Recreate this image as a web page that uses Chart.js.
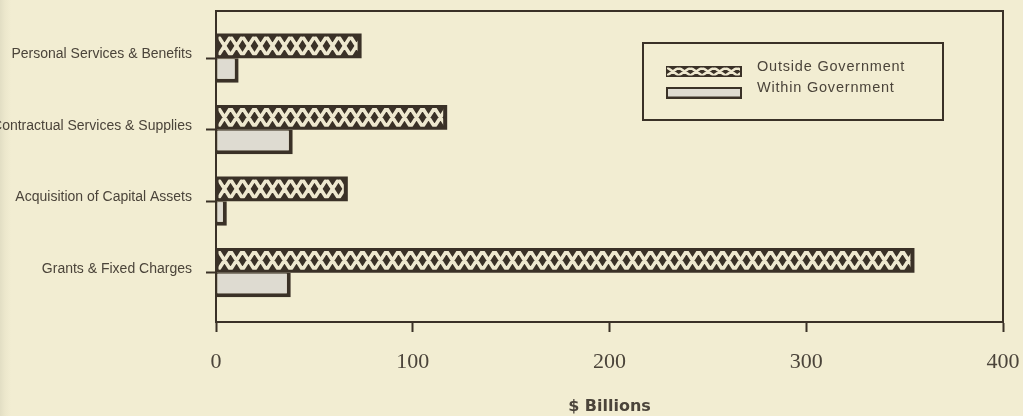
<!DOCTYPE html>
<html>
<head>
<meta charset="utf-8">
<script src="https://cdn.jsdelivr.net/npm/chart.js@4"></script>
<style>
  html, body { margin: 0; padding: 0; }
  body {
    width: 1023px; height: 416px; overflow: hidden;
    background: linear-gradient(to right, #e2dec4 0px, #ece7cc 5px, #f2edd2 11px, #f2edd2 100%);
  }
  canvas { display: block; }
</style>
</head>
<body>
<canvas id="chart" width="1023" height="416"></canvas>
<script>
// Spending by object class, split by who receives the money
const categories = [
  'Personal Services & Benefits',
  'Contractual Services & Supplies',
  'Acquisition of Capital Assets',
  'Grants & Fixed Charges'
];
const outsideGovernment = [74, 117.5, 67, 355];
const withinGovernment = [11.5, 39, 5.5, 38];
const seriesNames = ['Outside Government', 'Within Government'];
const xTickValues = [0, 100, 200, 300, 400];
const axisTitle = '$ Billions';

const INK = '#3a3127';
const TEXT = '#4b443a';
const CREAM = '#eee8cf';
const STIPPLE = '#dedbd1';

// White cross-lattice used for the hatched series
function drawLattice(ctx, left, top, right, bottom, period, lineWidth) {
  if (right <= left || bottom <= top) return;
  ctx.save();
  ctx.beginPath();
  ctx.rect(left, top, right - left, bottom - top);
  ctx.clip();
  ctx.strokeStyle = CREAM;
  ctx.lineWidth = lineWidth;
  ctx.beginPath();
  for (let cx = left + period / 2; cx - period / 2 < right; cx += period) {
    ctx.moveTo(cx - period / 2, top);
    ctx.lineTo(cx + period / 2, bottom);
    ctx.moveTo(cx - period / 2, bottom);
    ctx.lineTo(cx + period / 2, top);
  }
  ctx.stroke();
  ctx.restore();
}

const hatchPlugin = {
  id: 'hatch',
  afterDatasetsDraw(chart) {
    const ctx = chart.ctx;
    const meta = chart.getDatasetMeta(0);
    meta.data.forEach(bar => {
      const p = bar.getProps(['x', 'y', 'base', 'height'], true);
      const left = Math.min(p.x, p.base);
      const right = Math.max(p.x, p.base);
      const top = p.y - p.height / 2;
      const bottom = p.y + p.height / 2;
      drawLattice(ctx, left + 2, top + 3, right - 4, bottom - 3, 12, 3.6);
    });
  }
};

const framePlugin = {
  id: 'frame',
  afterDatasetsDraw(chart) {
    const { ctx, chartArea: a } = chart;
    ctx.save();
    ctx.strokeStyle = INK;
    ctx.lineWidth = 2;
    ctx.beginPath();
    ctx.moveTo(a.left, a.top);
    ctx.lineTo(a.right, a.top);
    ctx.lineTo(a.right, a.bottom);
    ctx.stroke();
    ctx.restore();
  }
};

const boxLegendPlugin = {
  id: 'boxLegend',
  afterDraw(chart) {
    const ctx = chart.ctx;
    const ds = chart.data.datasets;
    ctx.save();
    ctx.strokeStyle = INK;
    ctx.lineWidth = 2;
    ctx.strokeRect(643, 43, 300, 77);

    const sx = 666, sw = 76;
    ctx.fillStyle = ds[0].backgroundColor;
    ctx.fillRect(sx, 66, sw, 11);
    drawLattice(ctx, sx + 1, 67.5, sx + sw - 2, 75.5, 11.7, 2.6);

    ctx.fillStyle = ds[1].borderColor;
    ctx.fillRect(sx, 87, sw, 12);
    ctx.fillStyle = ds[1].backgroundColor;
    ctx.fillRect(sx + 2, 89, sw - 4, 7.5);

    ctx.fillStyle = TEXT;
    ctx.font = '14.5px "Liberation Sans", Arial, sans-serif';
    if ('letterSpacing' in ctx) ctx.letterSpacing = '0.8px';
    ctx.textBaseline = 'middle';
    ctx.textAlign = 'left';
    ctx.fillText(ds[0].label, 757, 67);
    ctx.fillText(ds[1].label, 757, 88);
    ctx.restore();
  }
};

const axisBorder = { display: true, color: INK, width: 2 };

new Chart(document.getElementById('chart'), {
  type: 'bar',
  data: {
    datasets: [
      {
        label: seriesNames[0],
        data: outsideGovernment.map((v, i) => ({ x: v, y: i })),
        backgroundColor: INK,
        borderWidth: 0,
        categoryPercentage: 0.69,
        barPercentage: 1
      },
      {
        label: seriesNames[1],
        data: withinGovernment.map((v, i) => ({ x: v, y: i })),
        backgroundColor: STIPPLE,
        borderColor: INK,
        borderWidth: { top: 1, right: 4, bottom: 4, left: 1 },
        borderSkipped: false,
        categoryPercentage: 0.69,
        barPercentage: 1
      }
    ]
  },
  options: {
    indexAxis: 'y',
    responsive: false,
    animation: false,
    events: [],
    layout: { padding: { top: 11, right: 20, bottom: 0, left: 0 } },
    plugins: {
      legend: { display: false },
      tooltip: { enabled: false }
    },
    scales: {
      x: {
        type: 'linear',
        position: 'bottom',
        min: 0,
        max: 400,
        offset: false,
        afterBuildTicks: s => { s.ticks = xTickValues.map(v => ({ value: v })); },
        grid: { offset: false, drawOnChartArea: false, drawTicks: true, tickLength: 10, tickWidth: 2, tickColor: INK },
        border: axisBorder,
        ticks: {
          font: { family: '"Liberation Serif", "Times New Roman", serif', size: 22 },
          color: TEXT,
          padding: 17,
          maxRotation: 0,
          autoSkip: false
        },
        title: {
          display: true,
          text: axisTitle,
          font: { family: '"DejaVu Sans", sans-serif', size: 16, weight: 'bold' },
          color: TEXT,
          padding: { top: 0, bottom: 0 }
        },
        afterFit: s => { s.height = 94; s.paddingLeft = 0; s.paddingRight = 0; }
      },
      y: {
        type: 'linear',
        position: 'left',
        reverse: true,
        min: -0.66,
        max: 3.69,
        offset: false,
        afterBuildTicks: s => { s.ticks = categories.map((_, i) => ({ value: i })); },
        grid: { offset: false, drawOnChartArea: false, drawTicks: true, tickLength: 10, tickWidth: 2, tickColor: INK },
        border: axisBorder,
        ticks: {
          callback: v => categories[v] ?? '',
          font: { family: '"Liberation Sans", Arial, sans-serif', size: 14 },
          color: TEXT,
          padding: 14,
          labelOffset: -4,
          autoSkip: false
        },
        afterFit: s => { s.width = 216; s.paddingTop = 0; s.paddingBottom = 0; }
      }
    }
  },
  plugins: [hatchPlugin, framePlugin, boxLegendPlugin]
});
</script>
</body>
</html>
